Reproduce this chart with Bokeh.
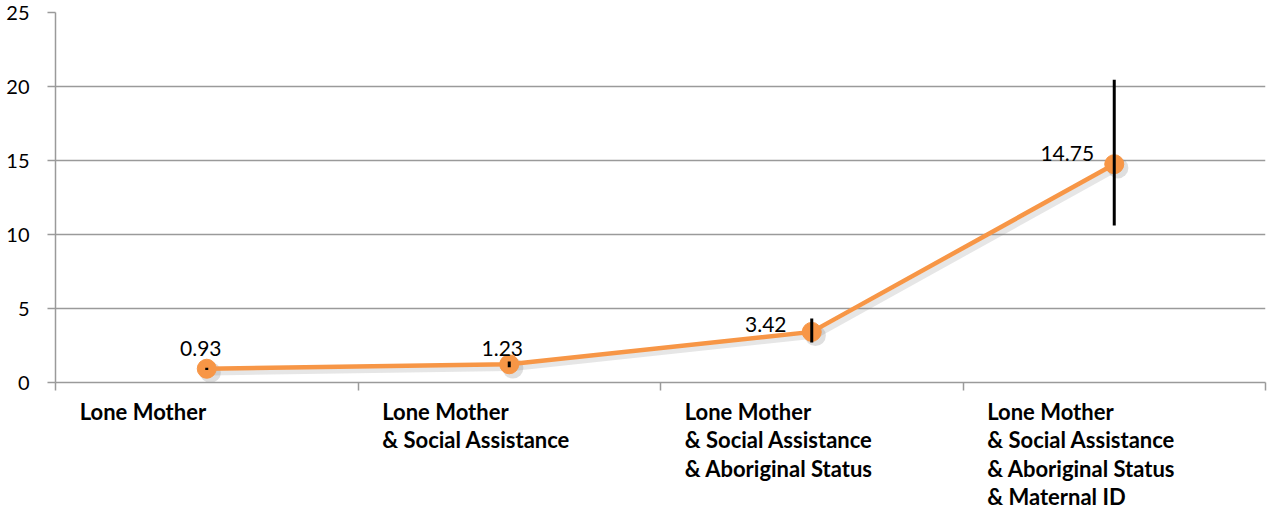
import numpy as np
from bokeh.plotting import figure
from bokeh.layouts import column
from bokeh.models import ColumnDataSource, Range1d, FixedTicker
from bokeh.core.properties import value
from bokeh.transform import dodge
from bokeh.embed import file_html
from bokeh.resources import INLINE

# ---- data ----
categories = [
    "Lone Mother",
    "Lone Mother\n& Social Assistance",
    "Lone Mother\n& Social Assistance\n& Aboriginal Status",
    "Lone Mother\n& Social Assistance\n& Aboriginal Status\n& Maternal ID",
]
values = [0.93, 1.23, 3.42, 14.75]
lower = [0.85, 1.03, 2.70, 10.60]
upper = [1.00, 1.42, 4.32, 20.45]
value_labels = ["0.93", "1.23", "3.42", "14.75"]
y_ticks = [0, 5, 10, 15, 20, 25]

# ---- style ----
ORANGE = "#F79646"
GRID = "#9A9A9A"
FONT = "Lato"
label_dx = [-6, -7, -46, -47]
label_dy = [-20, -16, -7, -11]
CAT_LABEL_DX = 0.08   # label inset from category boundary (fraction of a category)
CAT_LABEL_TOP = 1     # px from top of the label strip

n = len(categories)
xs = np.arange(n) + 0.5
src = ColumnDataSource(dict(x=xs, y=values, lo=lower, hi=upper, lab=value_labels,
                            dx=label_dx, dy=label_dy))
xr = Range1d(0, n)

top_h = 396
p = figure(width=1267, height=top_h, output_backend="svg", toolbar_location=None,
           x_range=xr, y_range=Range1d(0, 25),
           min_border_left=55, min_border_right=2, min_border_top=12, min_border_bottom=14)
p.outline_line_color = None
p.background_fill_color = "white"
p.border_fill_color = "white"

# y axis
p.yaxis.ticker = FixedTicker(ticks=y_ticks)
p.yaxis.axis_line_color = GRID
p.yaxis.axis_line_width = 1.5
p.yaxis.major_tick_line_color = GRID
p.yaxis.major_tick_line_width = 1.5
p.yaxis.major_tick_out = 8
p.yaxis.major_tick_in = 0
p.yaxis.minor_tick_line_color = None
p.yaxis.major_label_text_font = FONT
p.yaxis.major_label_text_font_size = "20px"
p.yaxis.major_label_text_color = "black"
p.yaxis.major_label_standoff = 18

# x axis: only the line and the category-boundary ticks
p.xaxis.ticker = FixedTicker(ticks=[], minor_ticks=list(range(n + 1)))
p.xaxis.axis_line_color = GRID
p.xaxis.axis_line_width = 1.5
p.xaxis.major_tick_line_color = None
p.xaxis.major_tick_out = 0
p.xaxis.minor_tick_line_color = GRID
p.xaxis.minor_tick_line_width = 1.5
p.xaxis.minor_tick_out = 8
p.xaxis.minor_tick_in = 0
p.xaxis.major_label_text_font_size = "0px"
p.xaxis.major_label_standoff = 0

p.xgrid.grid_line_color = None
p.ygrid.ticker = FixedTicker(ticks=y_ticks)
p.ygrid.grid_line_color = GRID
p.ygrid.grid_line_width = 1.5

# shadow
p.line(x=dodge("x", 0.012, range=p.x_range), y=dodge("y", -0.25, range=p.y_range),
       source=src, line_color="#808080", line_alpha=0.2, line_width=6)
p.scatter(x=dodge("x", 0.012, range=p.x_range), y=dodge("y", -0.25, range=p.y_range),
          source=src, size=21, fill_color="#808080", fill_alpha=0.25, line_color=None)

# series
p.line("x", "y", source=src, line_color=ORANGE, line_width=4.5)
p.scatter("x", "y", source=src, size=19, fill_color=ORANGE, line_color=ORANGE)

# error bars
p.segment(x0="x", y0="lo", x1="x", y1="hi", source=src, line_color="black", line_width=3)

# data labels
p.text("x", "y", text="lab", source=src, x_offset="dx", y_offset="dy",
       text_align="center", text_baseline="middle", text_font=value(FONT),
       text_font_size="21px", text_color="black")

# category label strip (shares the x range so labels sit inside each category)
strip_h = 510 - top_h
q = figure(width=1267, height=strip_h, output_backend="svg", toolbar_location=None,
           x_range=xr, y_range=Range1d(strip_h, 0),
           min_border_left=55, min_border_right=2, min_border_top=0, min_border_bottom=0)
q.axis.visible = False
q.grid.visible = False
q.outline_line_color = None
q.background_fill_color = "white"
q.border_fill_color = "white"
cat_src = ColumnDataSource(dict(x=np.arange(n) + CAT_LABEL_DX, y=[CAT_LABEL_TOP] * n,
                                text=categories))
q.text("x", "y", text="text", source=cat_src, text_align="left", text_baseline="top",
       text_font=value(FONT), text_font_style="bold", text_font_size="22px",
       text_line_height=1.06, text_color="black")

open("out.html", "w").write(file_html(column(p, q, spacing=0), INLINE))
